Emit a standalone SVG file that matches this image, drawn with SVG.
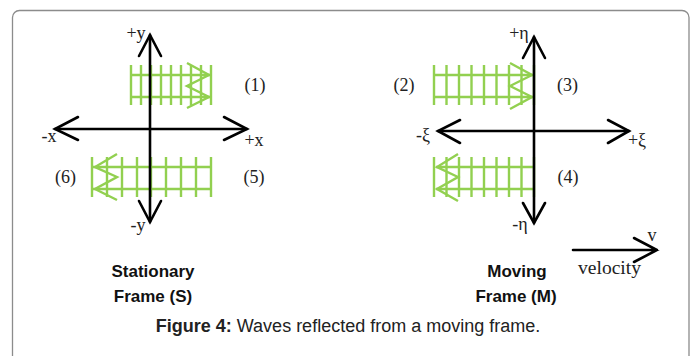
<svg xmlns="http://www.w3.org/2000/svg" width="697" height="356" viewBox="0 0 697 356">
<style>
.ax{stroke:#000;stroke-width:2.6;fill:none;stroke-linecap:round;stroke-linejoin:miter}
.gr{stroke:#92d050;stroke-width:2.4;fill:none}
.lb{font-family:"Liberation Serif",serif;font-size:18px;fill:#222;text-anchor:middle}
.bd{font-family:"Liberation Sans",Arial,sans-serif;font-size:17px;font-weight:bold;fill:#111;text-anchor:middle}
.cap{font-family:"Liberation Sans",Arial,sans-serif;font-size:18px;fill:#222;text-anchor:middle}
</style>
<rect x="12.5" y="10.5" width="676.5" height="360" rx="7" ry="7" fill="#fff" stroke="#8c8c8c" stroke-width="1.3"/>

<g id="waves-stationary-upper">
<path class="gr" d="M131 75H210M131 97H210M131 65V105M141 65V105M151 65V105M161 65V105M171 65V105M181 65V105M191 65V105M201 65V105M211 65V105"/>
<path class="gr" d="M187 63L209 75L187 86L209 97L187 108"/>
</g>
<g id="waves-stationary-lower">
<path class="gr" d="M93 167H211M93 189H211M92 157V197M107 157V197M122 157V197M137 157V197M151 157V197M166 157V197M181 157V197M196 157V197M211 157V197"/>
<path class="gr" d="M117 154L95 167L117 177L95 189L117 200"/>
</g>
<g id="waves-moving-upper">
<path class="gr" d="M434 75H533M434 97H533M434 65V105M446.5 65V105M459 65V105M471.5 65V105M484 65V105M496.5 65V105M509 65V105M521.5 65V105M534 65V105"/>
<path class="gr" d="M510 63L532 75L510 86L532 97L510 109"/>
</g>
<g id="waves-moving-lower">
<path class="gr" d="M436 167H534M436 189H534M434 157V197M446.5 157V197M459 157V197M471.5 157V197M484 157V197M496.5 157V197M509 157V197M521.5 157V197M534 157V197"/>
<path class="gr" d="M458 154L437 167L458 177L437 189L458 201"/>
</g>

<g id="connectors">
<g id="axes-stationary">
<path class="ax" d="M150 35V222M55 129H247"/>
<path class="ax" d="M139 56L150 35L161 56M139 201L150 222L161 201M78 117L55 129L78 140M224 117L247 129L224 140"/>
</g>
<g id="axes-moving">
<path class="ax" d="M534 37V223M438 131H629"/>
<path class="ax" d="M523 58L534 37L545 58M523 203L534 223L545 203M460 120L438 131L460 143M608 120L629 131L608 143"/>
</g>
<g id="velocity-arrow">
<path class="ax" d="M573 250H657M634 238L657 250L634 262"/>
</g>
</g>

<g id="labels-stationary">
<text class="lb" x="136" y="39">+y</text>
<text class="lb" x="49" y="142">-x</text>
<text class="lb" x="254" y="146">+x</text>
<text class="lb" x="138" y="231">-y</text>
<text class="lb" x="255" y="91">(1)</text>
<text class="lb" x="65.5" y="183">(6)</text>
<text class="lb" x="254" y="183">(5)</text>
</g>
<g id="labels-moving">
<text class="lb" x="519" y="39">+η</text>
<text class="lb" x="423" y="141">-ξ</text>
<text class="lb" x="637" y="146">+ξ</text>
<text class="lb" x="520" y="230">-η</text>
<text class="lb" x="404" y="91">(2)</text>
<text class="lb" x="567.5" y="91">(3)</text>
<text class="lb" x="568" y="183">(4)</text>
</g>
<g id="velocity-labels">
<text class="lb" x="652" y="241">v</text>
<text class="lb" x="609.5" y="274" textLength="63" lengthAdjust="spacingAndGlyphs">velocity</text>
</g>
<g id="title-stationary">
<text class="bd" x="153" y="277">Stationary</text>
<text class="bd" x="153" y="302">Frame (S)</text>
</g>
<g id="title-moving">
<text class="bd" x="517" y="277">Moving</text>
<text class="bd" x="516" y="302">Frame (M)</text>
</g>
<g id="caption">
<text class="cap" x="348" y="332"><tspan font-weight="bold">Figure 4:</tspan> Waves reflected from a moving frame.</text>
</g>
</svg>
